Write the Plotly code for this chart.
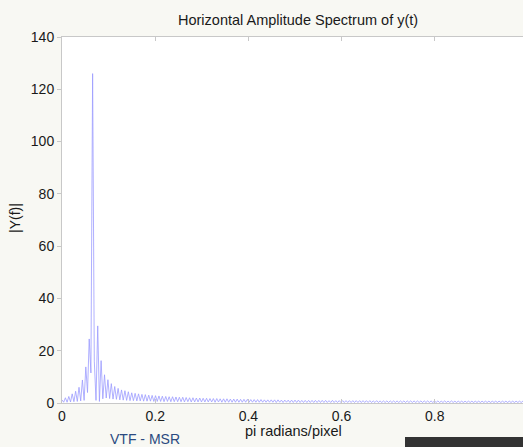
import numpy as np
import plotly.graph_objects as go

# |Y(f)|, one value per frequency bin (bin width 1/274)
magnitude = [
    1.2, 0.3, 2.0, 0.3, 2.5, 0.4, 3.5, 0.5, 4.5, 0.6,
    6.0, 0.8, 8.8, 1.0, 13.8, 4.0, 24.5, 11.5,
    126.0, 16.0, 1.0, 29.5, 0.6, 16.2, 1.6, 10.8, 1.9, 8.9,
    1.7, 7.4, 1.5, 6.3, 1.4, 5.6, 1.2, 5.0, 1.1, 4.7,
    1.0, 4.3, 0.9, 3.9, 0.9, 3.7, 0.8, 3.5, 0.8, 3.3,
    0.7, 3.2, 0.7, 3.0, 0.7, 2.9, 0.6, 2.8,
    0.6, 2.7, 0.6, 2.6, 0.5, 2.5, 0.6, 2.4, 0.5, 2.4,
    0.5, 2.3, 0.5, 2.2, 0.5, 2.2, 0.4, 2.1, 0.5, 2.0,
    0.4, 2.0, 0.4, 1.9, 0.4, 1.9, 0.4, 1.8, 0.4, 1.8,
    0.4, 1.7, 0.4, 1.7, 0.3, 1.7, 0.4, 1.6, 0.3, 1.6,
    0.3, 1.6, 0.3, 1.5, 0.3, 1.5, 0.3, 1.5, 0.3, 1.4,
    0.3, 1.4, 0.3, 1.4,
    0.3, 1.3, 0.3, 1.3, 0.3, 1.3, 0.3, 1.3, 0.3, 1.2,
    0.3, 1.2, 0.3, 1.2, 0.3, 1.2, 0.2, 1.2, 0.3, 1.1,
    0.2, 1.1, 0.3, 1.1, 0.2, 1.1, 0.2, 1.1, 0.2, 1.1,
    0.2, 1.0, 0.2, 1.0, 0.2, 1.0, 0.2, 1.0, 0.2, 1.0,
    0.2, 1.0, 0.2, 1.0, 0.2, 1.0, 0.2, 0.9, 0.2, 1.0,
    0.2, 0.9, 0.2, 0.9, 0.2, 0.9, 0.2, 0.9, 0.2, 0.9,
    0.2, 0.9, 0.2, 0.9, 0.2, 0.9, 0.2, 0.9, 0.2, 0.9,
    0.2, 0.9, 0.2, 0.8, 0.2, 0.9, 0.2, 0.8, 0.2, 0.8,
    0.2, 0.8, 0.2, 0.8, 0.2, 0.8, 0.2, 0.8, 0.2, 0.8,
    0.2, 0.8, 0.2, 0.8, 0.2, 0.8, 0.2, 0.8, 0.2, 0.8,
    0.2, 0.8, 0.2, 0.8, 0.2, 0.8, 0.2, 0.8, 0.2, 0.8,
    0.2, 0.8, 0.2, 0.7, 0.2, 0.8, 0.2, 0.7, 0.2, 0.8,
    0.2, 0.7, 0.2, 0.7, 0.2, 0.7, 0.2, 0.7, 0.2, 0.7,
    0.2, 0.7, 0.2, 0.7, 0.2, 0.7, 0.2, 0.7, 0.2, 0.7,
    0.2, 0.7, 0.2, 0.7, 0.2, 0.7, 0.2, 0.7, 0.2, 0.7,
    0.2, 0.7, 0.2, 0.7, 0.2, 0.7, 0.2, 0.7, 0.2, 0.7,
    0.2, 0.7, 0.2, 0.7, 0.2,
]
n_bins = 274
freq = np.arange(len(magnitude)) / n_bins  # pi radians/pixel

x_ticks = [0, 0.2, 0.4, 0.6, 0.8]
y_ticks = [0, 20, 40, 60, 80, 100, 120, 140]

font = "Liberation Sans, Arial, sans-serif"
bg = "#f8f8f3"

W, H = 523, 447
L, T, B = 62, 37, 44
plot_w, plot_h = W - L, H - T - B


def px(x, y):
    # figure pixel -> paper coordinates of the plot area
    return (x - L) / plot_w, (H - B - y) / plot_h


fig = go.Figure()
fig.add_trace(go.Scatter(
    x=freq, y=magnitude, mode="lines",
    line=dict(color="#9c9cff", width=0.8),
    showlegend=False, hoverinfo="skip",
))

texts = [
    ("Horizontal Amplitude Spectrum of y(t)", 298, 20, 14.5, "#1a1a1a", 0),
    ("pi radians/pixel", 293, 431, 14.5, "#1a1a1a", 0),
    ("|Y(f)|", 15, 218, 14, "#1a1a1a", -90),
    ("VTF - MSR", 145, 439, 14, "#2b4a80", 0),
]
annotations = []
for txt, x, y, size, color, angle in texts:
    ax, ay = px(x, y)
    annotations.append(dict(text=txt, x=ax, y=ay, xref="paper", yref="paper",
                            xanchor="center", yanchor="middle",
                            showarrow=False, textangle=angle,
                            font=dict(size=size, color=color)))

fig.update_layout(
    width=W, height=H,
    margin=dict(l=L, r=0, t=T, b=B, autoexpand=False),
    paper_bgcolor=bg,
    plot_bgcolor="white",
    font=dict(family=font, size=14, color="#1a1a1a"),
    annotations=annotations,
)

rx0, ry0 = px(405, 447)
rx1, ry1 = px(530, 437)
fig.add_shape(type="rect", xref="paper", yref="paper",
              x0=rx0, x1=rx1, y0=ry0, y1=ry1,
              fillcolor="#333333", line=dict(width=0), layer="above")

fig.update_xaxes(
    range=[0, plot_w / 466], tickvals=x_ticks, ticktext=[str(t) for t in x_ticks],
    showgrid=False, zeroline=False, showline=True, linecolor="#c8c8c8", linewidth=1,
    mirror="ticks", ticks="inside", ticklen=4, tickcolor="#c8c8c8", automargin=False,
)
fig.update_yaxes(
    range=[0, 140], tickvals=y_ticks,
    showgrid=False, zeroline=False, showline=True, linecolor="#c8c8c8", linewidth=1,
    mirror=True, ticks="outside", ticklen=4, tickcolor="#c8c8c8", automargin=False,
)

# drop the page's default body margin so the figure sits at the window corner
page_js = (
    "document.body.style.margin='0';"
    "document.body.style.background='" + bg + "';"
    "document.documentElement.style.overflow='hidden';"
)
fig.write_html("out.html", post_script=page_js, config={"displayModeBar": False})
